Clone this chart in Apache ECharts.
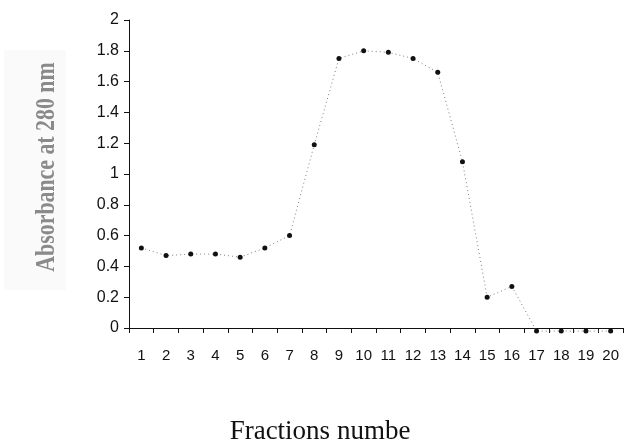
<!DOCTYPE html>
<html>
<head>
<meta charset="utf-8">
<script src="https://cdn.jsdelivr.net/npm/echarts@6/dist/echarts.min.js"></script>
<style>
html,body{margin:0;padding:0;background:#fff;}
#chart{width:627px;height:444px;}
</style>
</head>
<body>
<div id="chart"></div>
<script>
const categories = ['1','2','3','4','5','6','7','8','9','10','11','12','13','14','15','16','17','18','19','20'];
const absorbance = [0.52, 0.47, 0.48, 0.48, 0.46, 0.52, 0.60, 1.19, 1.75, 1.80, 1.79, 1.75, 1.66, 1.08, 0.20, 0.27, -0.02, -0.02, -0.02, -0.02];
const yTitle = 'Absorbance at 280 nm';
const xTitle = 'Fractions numbe';

const chart = echarts.init(document.getElementById('chart'), null, {renderer: 'canvas'});
chart.setOption({
  backgroundColor: '#ffffff',
  animation: false,
  grid: {left: 129, right: 4, top: 20, bottom: 116, containLabel: false},
  xAxis: {
    type: 'category',
    data: categories,
    boundaryGap: true,
    axisLine: {show: true, lineStyle: {color: '#111', width: 1}},
    axisTick: {show: true, alignWithLabel: false, length: 5, lineStyle: {color: '#111'}},
    axisLabel: {color: '#111', fontFamily: 'Liberation Sans', fontSize: 15, margin: 20, interval: 0},
    splitLine: {show: false}
  },
  yAxis: {
    type: 'value',
    min: 0, max: 2, interval: 0.2,
    axisLine: {show: true, lineStyle: {color: '#111', width: 1}},
    axisTick: {show: true, length: 5, lineStyle: {color: '#111'}},
    axisLabel: {color: '#111', fontFamily: 'Liberation Sans', fontSize: 16, margin: 10},
    splitLine: {show: false}
  },
  graphic: [
    {
      type: 'rect', left: 4, top: 50, z: -1,
      shape: {width: 62, height: 240},
      style: {fill: '#fafafa'}
    },
    {
      type: 'text',
      x: 47, y: 167,
      rotation: Math.PI / 2,
      scaleX: 0.78, scaleY: 1,
      style: {
        text: yTitle,
        fill: '#8a8a8a',
        font: 'bold 28px "Liberation Serif"',
        align: 'center',
        verticalAlign: 'middle'
      }
    },
    {
      type: 'text',
      x: 320, y: 432,
      style: {
        text: xTitle,
        fill: '#111',
        font: '27px "Liberation Serif"',
        align: 'center',
        verticalAlign: 'middle'
      }
    }
  ],
  series: [{
    type: 'line',
    data: absorbance,
    clip: false,
    symbol: 'circle',
    symbolSize: 5,
    itemStyle: {color: '#111'},
    lineStyle: {color: '#808080', width: 1, type: [1, 3]}
  }]
});
</script>
</body>
</html>
